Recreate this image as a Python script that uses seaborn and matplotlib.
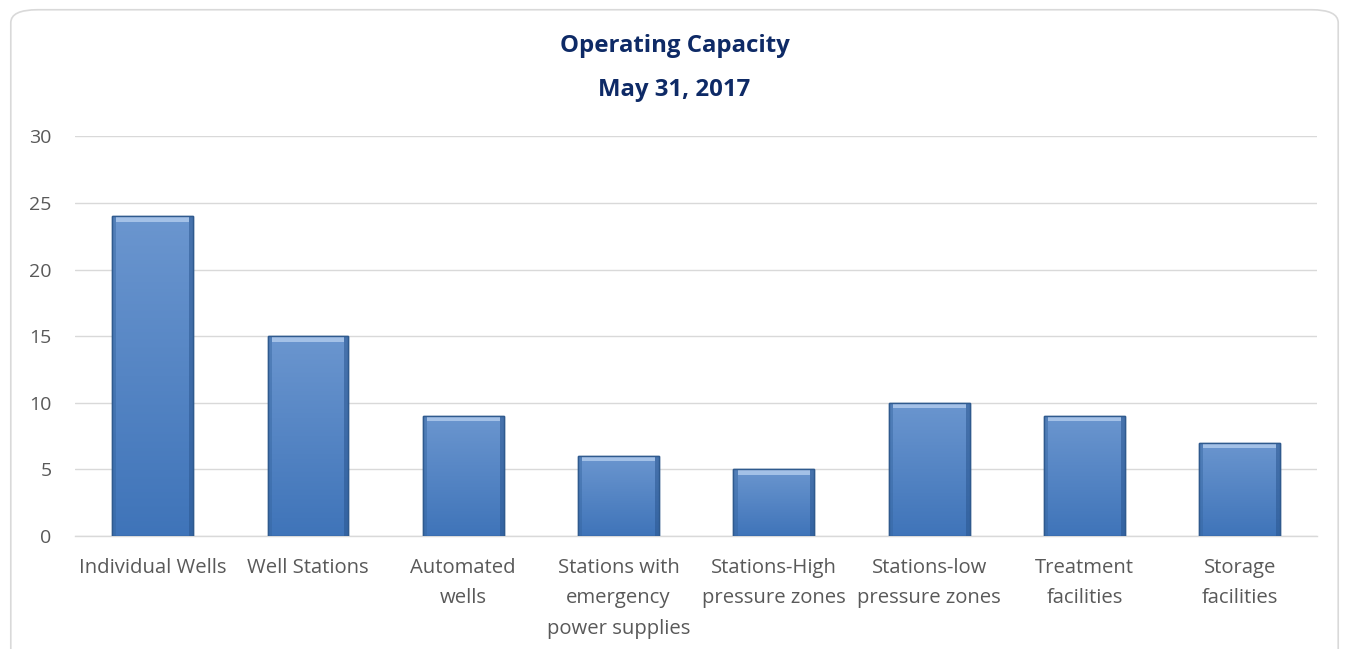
import matplotlib
matplotlib.use("Agg")
import matplotlib.pyplot as plt
from matplotlib.patches import FancyBboxPatch
from matplotlib.colors import LinearSegmentedColormap
import numpy as np
import pandas as pd
import seaborn as sns

categories = ["Individual Wells", "Well Stations", "Automated\nwells",
              "Stations with\nemergency\npower supplies", "Stations-High\npressure zones",
              "Stations-low\npressure zones", "Treatment\nfacilities", "Storage\nfacilities"]
values = [24, 15, 9, 6, 5, 10, 9, 7]
yticks = [0, 5, 10, 15, 20, 25, 30]

sns.set_theme(style="white")
plt.rcParams["font.family"] = ["Open Sans", "DejaVu Sans"]

fig = plt.figure(figsize=(13.49, 6.49), dpi=100)
frame = FancyBboxPatch((0.008, -0.05), 0.984, 1.035, boxstyle="round,pad=0,rounding_size=0.02",
                       transform=fig.transFigure, fill=False, edgecolor="#D9D9D9", linewidth=1.2)
fig.patches.append(frame)

ax = fig.add_axes([0.0556, 0.174, 0.921, 0.616])
df = pd.DataFrame({"cat": categories, "val": values})
sns.barplot(data=df, x="cat", y="val", ax=ax, color="#4A7EC2", width=0.52,
            edgecolor="#2F5A8E", linewidth=1.0, saturation=1, zorder=3)

grad = np.linspace(0, 1, 256).reshape(-1, 1)
cmap = LinearSegmentedColormap.from_list("b", ["#3F74B9", "#6B96CF"])
for p in list(ax.patches):
    x0, y0 = p.get_x(), p.get_y()
    w, h = p.get_width(), p.get_height()
    im = ax.imshow(grad, extent=[x0, x0 + w, y0, y0 + h], origin="lower", cmap=cmap,
                   aspect="auto", zorder=3.5)
    im.set_clip_path(p)
    bw = w * 0.05
    ax.add_patch(plt.Rectangle((x0, y0), bw, h, facecolor="#35659F", edgecolor="none",
                               alpha=0.45, zorder=4))
    ax.add_patch(plt.Rectangle((x0 + w - bw, y0), bw, h, facecolor="#2A5690", edgecolor="none",
                               alpha=0.55, zorder=4))
    ax.add_patch(plt.Rectangle((x0 + bw, y0 + h - 0.4), w - 2 * bw, 0.35,
                               facecolor="#B3CDEE", edgecolor="none", alpha=0.8, zorder=4))
    ax.add_patch(plt.Rectangle((x0, y0), w, h, facecolor="none", edgecolor="#2F5A8E",
                               linewidth=1.0, zorder=4.5))

ax.set_xlim(-0.5, len(categories) - 0.5)
ax.set_ylim(0, 30)
ax.set_yticks(yticks)
ax.set_yticklabels([str(t) for t in yticks])
ax.yaxis.grid(True, color="#D9D9D9", linewidth=1.0, zorder=0)
ax.set_axisbelow(True)
for s in ["top", "right", "left"]:
    ax.spines[s].set_visible(False)
ax.spines["bottom"].set_color("#D9D9D9")
ax.spines["bottom"].set_linewidth(1.0)
ax.tick_params(axis="x", length=0, labelsize=14.6, colors="#595959", pad=16)
ax.tick_params(axis="y", length=0, labelsize=14, colors="#595959", pad=17)
ax.set_xlabel("")
ax.set_ylabel("")
for lbl in ax.get_xticklabels():
    lbl.set_linespacing(1.68)
    lbl.set_va("top")

fig.text(0.5, 0.895, "Operating Capacity\nMay 31, 2017", ha="center", va="center",
         fontsize=17.3, fontweight="bold", color="#0E2A66", linespacing=2.12)

fig.savefig("out.png", dpi=100)
